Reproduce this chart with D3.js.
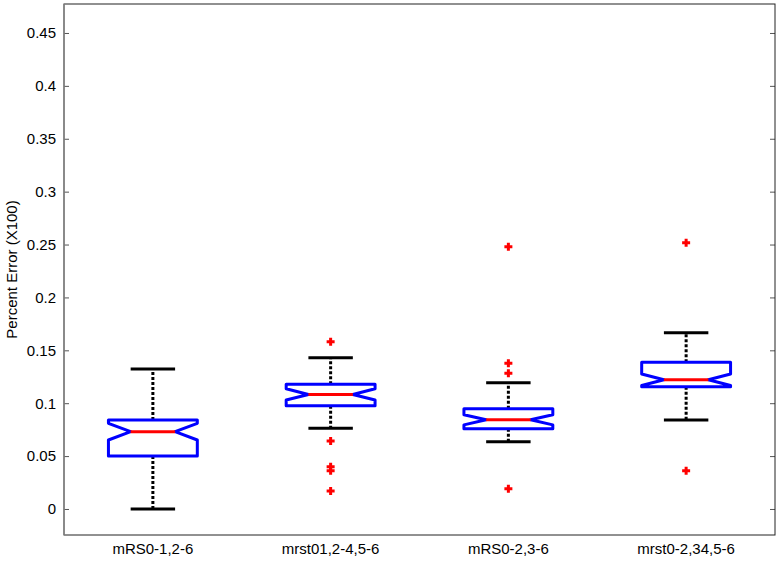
<!DOCTYPE html>
<html>
<head>
<meta charset="utf-8">
<script src="https://cdn.jsdelivr.net/npm/d3@7"></script>
<style>
  body { margin: 0; background: #fff; }
  svg { display: block; font-family: "Liberation Sans", Arial, sans-serif; }
</style>
</head>
<body>
<script>
'use strict';

// groups along the x axis
const categories = ['mRS0-1,2-6', 'mrst01,2-4,5-6', 'mRS0-2,3-6', 'mrst0-2,34,5-6'];

// box statistics
const q1 = [0.0501, 0.0977, 0.0759, 0.1156];
const medians = [0.0731, 0.1083, 0.0844, 0.1222];
const q3 = [0.0841, 0.1180, 0.0948, 0.1387];
const whiskerLo = [0.0000, 0.0763, 0.0636, 0.0841];
const whiskerHi = [0.1324, 0.1430, 0.1194, 0.1667];
const notchLo = [0.0652, 0.1030, 0.0795, 0.1168];
const notchHi = [0.0810, 0.1136, 0.0890, 0.1276];
const outliers = [
  [],
  [0.1580, 0.0643, 0.0400, 0.0362, 0.0170],
  [0.2480, 0.1377, 0.1283, 0.0192],
  [0.2518, 0.0362]
];

const yTicks = [0, 0.05, 0.1, 0.15, 0.2, 0.25, 0.3, 0.35, 0.4, 0.45];

window.onload = function() {
  const width = 780, height = 561;
  const left = 64, right = 775, top = 4, bottom = 535;
  const fontSize = 15;

  const svg = d3.select('body').append('svg')
    .attr('width', width)
    .attr('height', height);

  // MATLAB style: groups sit at 1..4, axis from 0.5 to 4.5
  const x = d3.scaleLinear().domain([0.5, 4.5]).range([left, right]);
  const y = d3.scaleLinear().domain([-0.0246, 0.4774]).range([bottom, top]);

  const boxHalf = (x(1.25) - x(1));     // box is 0.5 wide
  const capHalf = (x(1.125) - x(1));    // whisker cap is 0.25 wide

  // left axis with inward ticks
  const yAxis = d3.axisLeft(y).tickValues(yTicks)
    .tickSizeInner(-5).tickSizeOuter(0).tickPadding(8)
    .tickFormat(d => String(+d.toFixed(2)));
  const gy = svg.append('g').attr('transform', `translate(${left},0)`).call(yAxis);
  gy.select('.domain').remove();
  gy.selectAll('.tick line').attr('stroke', '#555');
  gy.selectAll('.tick text').attr('font-size', fontSize).attr('fill', '#000')
    .attr('font-family', '"Liberation Sans", Arial, sans-serif');

  // right axis mirror ticks
  const yAxisR = d3.axisRight(y).tickValues(yTicks)
    .tickSizeInner(-5).tickSizeOuter(0).tickFormat('');
  const gr = svg.append('g').attr('transform', `translate(${right},0)`).call(yAxisR);
  gr.select('.domain').remove();
  gr.selectAll('.tick line').attr('stroke', '#555');

  // frame
  svg.append('rect')
    .attr('x', left).attr('y', top)
    .attr('width', right - left).attr('height', bottom - top)
    .attr('fill', 'none').attr('stroke', '#222').attr('stroke-width', 1);
  svg.append('line')
    .attr('x1', left).attr('x2', left).attr('y1', top).attr('y2', bottom)
    .attr('stroke', '#888').attr('stroke-width', 1.5);

  // category labels
  svg.selectAll('.xlab')
    .data(categories)
    .enter()
    .append('text')
      .attr('x', (d, i) => x(i + 1))
      .attr('y', 554)
      .attr('text-anchor', 'middle')
      .attr('font-size', fontSize)
      .text(d => d);

  // y title
  svg.append('text')
    .attr('transform', `translate(17, ${(top + bottom) / 2}) rotate(-90)`)
    .attr('text-anchor', 'middle')
    .attr('font-size', fontSize)
    .text('Percent Error (X100)');

  const groups = svg.selectAll('.box')
    .data(categories)
    .enter()
    .append('g')
    .attr('class', 'box');

  // dashed whiskers
  groups.append('line')
    .attr('x1', (d, i) => x(i + 1)).attr('x2', (d, i) => x(i + 1))
    .attr('y1', (d, i) => y(q3[i])).attr('y2', (d, i) => y(whiskerHi[i]))
    .attr('stroke', '#000').attr('stroke-width', 3).attr('stroke-dasharray', '3,2');
  groups.append('line')
    .attr('x1', (d, i) => x(i + 1)).attr('x2', (d, i) => x(i + 1))
    .attr('y1', (d, i) => y(q1[i])).attr('y2', (d, i) => y(whiskerLo[i]))
    .attr('stroke', '#000').attr('stroke-width', 3).attr('stroke-dasharray', '3,2');

  // whisker caps
  [whiskerHi, whiskerLo].forEach(arr => {
    groups.append('line')
      .attr('x1', (d, i) => x(i + 1) - capHalf).attr('x2', (d, i) => x(i + 1) + capHalf)
      .attr('y1', (d, i) => y(arr[i])).attr('y2', (d, i) => y(arr[i]))
      .attr('stroke', '#000').attr('stroke-width', 3);
  });

  // notched box outline
  groups.append('path')
    .attr('d', (d, i) => {
      const cx = x(i + 1);
      const l = cx - boxHalf, r = cx + boxHalf;
      const li = cx - boxHalf / 2, ri = cx + boxHalf / 2;
      return 'M' + l + ',' + y(q1[i]) +
        'L' + r + ',' + y(q1[i]) +
        'L' + r + ',' + y(notchLo[i]) +
        'L' + ri + ',' + y(medians[i]) +
        'L' + r + ',' + y(notchHi[i]) +
        'L' + r + ',' + y(q3[i]) +
        'L' + l + ',' + y(q3[i]) +
        'L' + l + ',' + y(notchHi[i]) +
        'L' + li + ',' + y(medians[i]) +
        'L' + l + ',' + y(notchLo[i]) + 'Z';
    })
    .attr('fill', 'none').attr('stroke', '#0000ff').attr('stroke-width', 3)
    .attr('stroke-linejoin', 'round');

  // median
  groups.append('line')
    .attr('x1', (d, i) => x(i + 1) - boxHalf / 2).attr('x2', (d, i) => x(i + 1) + boxHalf / 2)
    .attr('y1', (d, i) => y(medians[i])).attr('y2', (d, i) => y(medians[i]))
    .attr('stroke', '#ff0000').attr('stroke-width', 3);

  // outliers as red plus signs
  const pts = [];
  outliers.forEach((arr, i) => arr.forEach(v => pts.push({ g: i + 1, v: v })));
  const s = 4;
  svg.selectAll('.outlier')
    .data(pts)
    .enter()
    .append('path')
      .attr('d', d => {
        const cx = x(d.g), cy = y(d.v);
        return 'M' + (cx - s) + ',' + cy + 'H' + (cx + s) +
          'M' + cx + ',' + (cy - s) + 'V' + (cy + s);
      })
      .attr('stroke', '#ff0000').attr('stroke-width', 3).attr('fill', 'none');
};
</script>
</body>
</html>
